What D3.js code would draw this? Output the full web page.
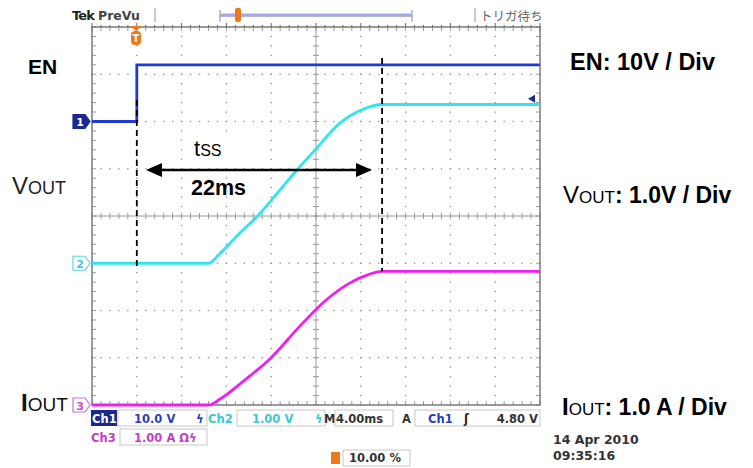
<!DOCTYPE html>
<html>
<head>
<meta charset="utf-8">
<script src="https://cdn.jsdelivr.net/npm/d3@7"></script>
<style>
  body { margin: 0; background: #fff; }
  svg { display: block; }
</style>
</head>
<body>
<div id="chart"></div>
<script>
var enTime = [-4, 0, 0, 36];            // ms
var enVolts = [0, 0, 12, 12];           // V
var voutTime = [-4, 6.4, 7.4, 9.2, 10.7, 12.6, 14.4, 16.0, 18.1, 20.2, 21.9, 36];
var voutVolts = [0, 0, 0.2, 0.64, 0.98, 1.5, 2.0, 2.42, 2.96, 3.26, 3.36, 3.36];
var ioutTime = [-4, 6.4, 7.4, 9.6, 11.9, 14.6, 16.8, 19.0, 20.8, 21.9, 36];
var ioutAmps = [0, 0, 0.12, 0.52, 0.98, 1.68, 2.2, 2.58, 2.77, 2.83, 2.83];
var tssStart = 0, tssEnd = 21.9;        // dashed markers, ms
var trigLevel = 4.8;                    // V on Ch1

var W = 753, H = 468;
var svg = d3.select('#chart').append('svg').attr('width', W).attr('height', H);

// screen: 10 div x 8 div, 4 ms/div, trigger at 10%
var x = d3.scaleLinear().domain([-4, 36]).range([92, 540]);
var xDiv = d3.scaleLinear().domain([0, 10]).range([92, 540]);
var yDiv = d3.scaleLinear().domain([-4, 4]).range([405, 27]);
// per channel: volts/div and ground offset in div
var yEN = function (v) { return yDiv(v / 10 + 2); };
var yVO = function (v) { return yDiv(v / 1 - 1); };
var yIO = function (v) { return yDiv(v / 1 - 4); };

var grid = svg.append('g');
var gridCol = '#9a9a9a';

// dotted major lines
d3.range(1, 10).forEach(function (i) {
	if (i == 5) return;
	d3.range(0, 40.01, 1).forEach(function (k) {
		grid.append('rect').attr('x', xDiv(i) - 0.7).attr('y', yDiv(-4 + k / 5) - 0.7)
			.attr('width', 1.4).attr('height', 1.4).attr('fill', gridCol);
	});
});
d3.range(-3, 4).forEach(function (j) {
	if (j == 0) return;
	d3.range(0, 50.01, 1).forEach(function (k) {
		grid.append('rect').attr('x', xDiv(k / 5) - 0.7).attr('y', yDiv(j) - 0.7)
			.attr('width', 1.4).attr('height', 1.4).attr('fill', gridCol);
	});
});

// center cross with minor ticks
grid.append('line').attr('x1', xDiv(0)).attr('x2', xDiv(10)).attr('y1', yDiv(0)).attr('y2', yDiv(0))
	.attr('stroke', gridCol).attr('stroke-width', 1);
grid.append('line').attr('x1', xDiv(5)).attr('x2', xDiv(5)).attr('y1', yDiv(-4)).attr('y2', yDiv(4))
	.attr('stroke', gridCol).attr('stroke-width', 1);
d3.range(0, 50.01, 1).forEach(function (k) {
	var px = xDiv(k / 5);
	grid.append('line').attr('x1', px).attr('x2', px).attr('y1', yDiv(0) - 3).attr('y2', yDiv(0) + 3)
		.attr('stroke', gridCol);
	grid.append('line').attr('x1', px).attr('x2', px).attr('y1', yDiv(-4)).attr('y2', yDiv(-4) - 4)
		.attr('stroke', gridCol);
	grid.append('line').attr('x1', px).attr('x2', px).attr('y1', yDiv(4)).attr('y2', yDiv(4) + 4)
		.attr('stroke', gridCol);
});
d3.range(0, 40.01, 1).forEach(function (k) {
	var py = yDiv(-4 + k / 5);
	grid.append('line').attr('x1', xDiv(5) - 3).attr('x2', xDiv(5) + 3).attr('y1', py).attr('y2', py)
		.attr('stroke', gridCol);
	grid.append('line').attr('x1', xDiv(0)).attr('x2', xDiv(0) + 4).attr('y1', py).attr('y2', py)
		.attr('stroke', gridCol);
	grid.append('line').attr('x1', xDiv(10)).attr('x2', xDiv(10) - 4).attr('y1', py).attr('y2', py)
		.attr('stroke', gridCol);
});

// frame
grid.append('rect').attr('x', xDiv(0)).attr('y', yDiv(4)).attr('width', xDiv(10) - xDiv(0))
	.attr('height', yDiv(-4) - yDiv(4)).attr('fill', 'none').attr('stroke', '#7a7a7a').attr('stroke-width', 1.5);

// top ruler ticks
d3.range(0, 50.01, 1).forEach(function (k) {
	var px = xDiv(k / 5);
	grid.append('line').attr('x1', px).attr('x2', px).attr('y1', yDiv(4)).attr('y2', yDiv(4) - (k % 5 == 0 ? 4 : 2))
		.attr('stroke', '#666');
});

// white patch behind tss label
svg.append('rect').attr('x', 182).attr('y', 132).attr('width', 54).attr('height', 30).attr('fill', '#fff');

// ---- traces ----
var lineEN = d3.line().x(function (d) { return x(d[0]); }).y(function (d) { return yEN(d[1]); });
var lineVO = d3.line().curve(d3.curveMonotoneX).x(function (d) { return x(d[0]); }).y(function (d) { return yVO(d[1]); });
var lineIO = d3.line().curve(d3.curveMonotoneX).x(function (d) { return x(d[0]); }).y(function (d) { return yIO(d[1]); });

svg.append('path').attr('d', lineEN(d3.zip(enTime, enVolts)))
	.attr('fill', 'none').attr('stroke', '#1e3ad2').attr('stroke-width', 2.8);
svg.append('path').attr('d', lineVO(d3.zip(voutTime, voutVolts)))
	.attr('fill', 'none').attr('stroke', '#2ee6ee').attr('stroke-width', 2.8);
svg.append('path').attr('d', lineIO(d3.zip(ioutTime, ioutAmps)))
	.attr('fill', 'none').attr('stroke', '#f01ef0').attr('stroke-width', 2.8);

// dashed tss markers
svg.append('line').attr('x1', x(tssStart)).attr('x2', x(tssStart)).attr('y1', 100).attr('y2', yVO(0) + 4)
	.attr('stroke', '#000').attr('stroke-width', 1.8).attr('stroke-dasharray', '6,4');
svg.append('line').attr('x1', x(tssEnd)).attr('x2', x(tssEnd)).attr('y1', 58).attr('y2', yIO(2.83))
	.attr('stroke', '#000').attr('stroke-width', 1.8).attr('stroke-dasharray', '6,4');

// double arrow
var ay = 170, ax1 = 146, ax2 = 372;
svg.append('line').attr('x1', ax1 + 12).attr('x2', ax2 - 12).attr('y1', ay).attr('y2', ay)
	.attr('stroke', '#000').attr('stroke-width', 2.4);
svg.append('path').attr('d', 'M' + ax1 + ',' + ay + 'l16,-7v14z').attr('fill', '#000');
svg.append('path').attr('d', 'M' + ax2 + ',' + ay + 'l-16,-7v14z').attr('fill', '#000');

var font = 'Liberation Sans, Arial, sans-serif';
var t = svg.append('text').attr('x', 194).attr('y', 156).attr('font-family', font).attr('font-size', 22).attr('fill', '#000');
t.append('tspan').text('t');
t.append('tspan').attr('font-size', 16).text('SS');
svg.append('text').attr('x', 191).attr('y', 195).attr('font-family', font).attr('font-size', 21.5)
	.attr('font-weight', 'bold').text('22ms');

// ---- channel markers ----
function marker(cy, fill, stroke, label, txt) {
	svg.append('path').attr('d', 'M73,' + (cy - 7) + 'h12l5,7l-5,7h-12z')
		.attr('fill', fill).attr('stroke', stroke).attr('stroke-width', 1.2);
	svg.append('text').attr('x', 80).attr('y', cy + 4.5).attr('text-anchor', 'middle')
		.attr('font-family', 'DejaVu Sans, sans-serif').attr('font-size', 11).attr('font-weight', 'bold')
		.attr('fill', txt).text(label);
}
marker(yEN(0), '#1a2a8c', '#1a2a8c', '1', '#fff');
marker(yVO(0), '#fff', '#5fd8e0', '2', '#3cc8d4');
marker(yIO(0), '#fff', '#d070d8', '3', '#c050c8');

// trigger level arrow on right
svg.append('path').attr('d', 'M528,' + yEN(trigLevel) + 'l7,-4v8z').attr('fill', '#1a2a8c');

// trigger position marker
svg.append('path').attr('d', 'M130,26h12l-6,5z').attr('fill', '#f07818');
svg.append('rect').attr('x', 131).attr('y', 31).attr('width', 10).attr('height', 14).attr('rx', 4).attr('fill', '#f07818');
svg.append('text').attr('x', 136).attr('y', 42).attr('text-anchor', 'middle').attr('font-family', 'DejaVu Sans, sans-serif')
	.attr('font-size', 10).attr('font-weight', 'bold').attr('fill', '#fff').text('T');

// ---- top bar ----
svg.append('text').attr('x', 72).attr('y', 20).attr('font-family', 'DejaVu Sans, sans-serif').attr('font-size', 13)
	.attr('font-weight', 'bold').attr('letter-spacing', -0.8).attr('fill', '#222').text('Tek');
svg.append('text').attr('x', 98).attr('y', 20).attr('font-family', 'DejaVu Sans, sans-serif').attr('font-size', 12.5)
	.attr('font-weight', 'bold').attr('fill', '#444').text('PreVu');
svg.append('line').attr('x1', 155).attr('x2', 155).attr('y1', 8).attr('y2', 22).attr('stroke', '#999');
svg.append('line').attr('x1', 475).attr('x2', 475).attr('y1', 8).attr('y2', 22).attr('stroke', '#999');
svg.append('path').attr('d', 'M220,10v12M220,16h192M412,10v12').attr('fill', 'none').attr('stroke', '#888');
svg.append('line').attr('x1', 221).attr('x2', 411).attr('y1', 15).attr('y2', 15).attr('stroke', '#a8a8e8').attr('stroke-width', 3);
svg.append('rect').attr('x', 235).attr('y', 8).attr('width', 6).attr('height', 14).attr('rx', 2).attr('fill', '#f07818');
svg.append('text').attr('x', 480).attr('y', 21).attr('font-family', 'Noto Sans CJK JP, sans-serif').attr('font-size', 12.5)
	.attr('fill', '#666').text('トリガ待ち');

// ---- side labels ----
svg.append('text').attr('x', 28).attr('y', 74).attr('font-family', font).attr('font-size', 21)
	.attr('font-weight', 'bold').text('EN');
var lv = svg.append('text').attr('x', 12).attr('y', 194).attr('font-family', font).attr('fill', '#222');
lv.append('tspan').attr('font-size', 24).text('V');
lv.append('tspan').attr('font-size', 18).text('OUT');
var li = svg.append('text').attr('x', 21).attr('y', 411).attr('font-family', font).attr('fill', '#111');
li.append('tspan').attr('font-size', 24).attr('font-weight', 'bold').text('I');
li.append('tspan').attr('font-size', 19).text('OUT');

svg.append('text').attr('x', 570).attr('y', 70).attr('font-family', font).attr('font-size', 23.5)
	.attr('font-weight', 'bold').text('EN: 10V / Div');
var rv = svg.append('text').attr('x', 563).attr('y', 203).attr('font-family', font);
rv.append('tspan').attr('font-size', 24).text('V');
rv.append('tspan').attr('font-size', 17).text('OUT');
rv.append('tspan').attr('font-size', 23).attr('font-weight', 'bold').text(': 1.0V / Div');
var ri = svg.append('text').attr('x', 562).attr('y', 415).attr('font-family', font);
ri.append('tspan').attr('font-size', 24).attr('font-weight', 'bold').text('I');
ri.append('tspan').attr('font-size', 17).text('OUT');
ri.append('tspan').attr('font-size', 23).attr('font-weight', 'bold').text(': 1.0 A / Div');

// ---- status bar ----
var sf = 'DejaVu Sans, sans-serif';
function box(x0, y0, w) {
	svg.append('rect').attr('x', x0).attr('y', y0).attr('width', w).attr('height', 16)
		.attr('fill', 'none').attr('stroke', '#c8c8c8');
}
function stxt(x0, y0, s, col, anchor) {
	svg.append('text').attr('x', x0).attr('y', y0).attr('font-family', sf).attr('font-size', 11.5)
		.attr('font-weight', 'bold').attr('fill', col).attr('text-anchor', anchor || 'start').text(s);
}
var r1 = 423, r2 = 442;
svg.append('rect').attr('x', 91).attr('y', 410).attr('width', 26).attr('height', 16).attr('fill', '#1a2a8c');
stxt(92, r1, 'Ch1', '#fff');
box(118, 410, 89);
stxt(134, r1, '10.0 V', '#2a3cc0');
stxt(196, r1, '\u03df', '#2a3cc0');
stxt(208, r1, 'Ch2', '#3cc8d4');
box(237, 410, 88);
stxt(252, r1, '1.00 V', '#3cc8d4');
stxt(315, r1, '\u03df', '#3cc8d4');
stxt(324, r1, 'M', '#333');
box(335, 410, 58);
stxt(336, r1, '4.00ms', '#333');
stxt(402, r1, 'A', '#333');
box(415, 410, 125);
stxt(428, r1, 'Ch1', '#2a3cc0');
stxt(464, r1, '\u0283', '#222');
stxt(538, r1, '4.80 V', '#333', 'end');
stxt(91, r2, 'Ch3', '#c040c8');
box(120, 429, 87);
stxt(134, r2, '1.00 A \u03a9\u03df', '#c040c8');
svg.append('rect').attr('x', 331).attr('y', 452).attr('width', 9).attr('height', 12).attr('fill', '#f07818');
box(343, 450, 67);
stxt(349, 462, '10.00 %', '#333');
svg.append('text').attr('x', 553).attr('y', 444).attr('font-family', sf).attr('font-size', 12.5)
	.attr('font-weight', 'bold').attr('fill', '#333').text('14 Apr 2010');
svg.append('text').attr('x', 553).attr('y', 460).attr('font-family', sf).attr('font-size', 12.5)
	.attr('font-weight', 'bold').attr('fill', '#333').text('09:35:16');
</script>
</body>
</html>
